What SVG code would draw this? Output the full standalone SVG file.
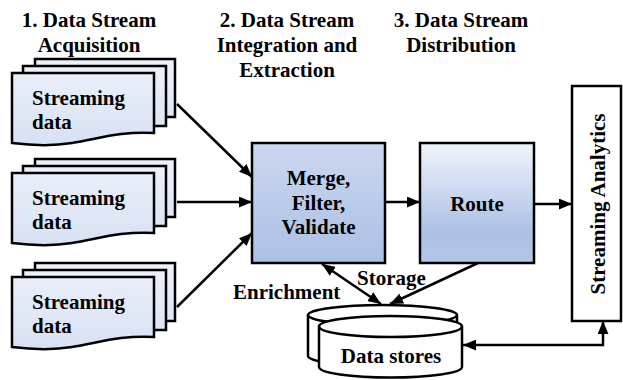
<svg xmlns="http://www.w3.org/2000/svg" width="623" height="380" viewBox="0 0 623 380">
<style>
text{font-family:"Liberation Serif","Times New Roman",serif;font-weight:bold;font-size:21px;fill:#000}
.c{text-anchor:middle}
.shape{stroke:#000;stroke-width:2.5;stroke-linejoin:miter}
.ln{fill:none;stroke:#000;stroke-width:2.5}
</style>
<defs>
<linearGradient id="gs" gradientUnits="userSpaceOnUse" x1="0" y1="55" x2="0" y2="350">
<stop offset="0" stop-color="#eef2fa"/>
<stop offset="0.5" stop-color="#c9d6ee"/>
<stop offset="1" stop-color="#a9bfe5"/>
</linearGradient>
<linearGradient id="gm" x1="0" y1="0" x2="0" y2="1">
<stop offset="0" stop-color="#cbd7ef"/>
<stop offset="1" stop-color="#abc0e5"/>
</linearGradient>
<linearGradient id="gr" x1="0" y1="0" x2="0" y2="1">
<stop offset="0" stop-color="#f1f4fb"/>
<stop offset="0.75" stop-color="#abc0e5"/>
<stop offset="1" stop-color="#b4c6e7"/>
</linearGradient>
<marker id="ah" viewBox="0 0 12 10" refX="12" refY="5" markerWidth="13" markerHeight="11" markerUnits="userSpaceOnUse" orient="auto-start-reverse">
<path d="M0,0 L12,5 L0,10 z" fill="#000"/>
</marker>
<g id="stackShape">
<rect class="shape" x="35" y="59" width="140" height="58"/>
<rect class="shape" x="23" y="66" width="143" height="60"/>
<path class="shape" d="M12,73 H154 V133 C120,131 98,139 72,143 C48,147 28,145 12,143 Z"/>
</g>
</defs>

<g id="headers">
<text class="c" x="89" y="27">1. Data Stream</text>
<text class="c" x="89" y="52">Acquisition</text>
<text class="c" x="287" y="27">2. Data Stream</text>
<text class="c" x="287" y="52">Integration and</text>
<text class="c" x="287" y="77">Extraction</text>
<text class="c" x="461" y="27">3. Data Stream</text>
<text class="c" x="461" y="52">Distribution</text>
</g>

<g id="stream1" fill="url(#gs)">
<use href="#stackShape"/>
<text x="32" y="105">Streaming</text>
<text x="32" y="129">data</text>
</g>
<g id="stream2" fill="url(#gs)" transform="translate(0,100)">
<use href="#stackShape"/>
<text x="32" y="105">Streaming</text>
<text x="32" y="129">data</text>
</g>
<g id="stream3" fill="url(#gs)" transform="translate(0,204)">
<use href="#stackShape"/>
<text x="32" y="105">Streaming</text>
<text x="32" y="129">data</text>
</g>

<g id="merge">
<rect class="shape" x="252" y="143" width="133" height="120" fill="url(#gm)"/>
<text class="c" x="318.5" y="185">Merge,</text>
<text class="c" x="318.5" y="210">Filter,</text>
<text class="c" x="318.5" y="234">Validate</text>
</g>

<g id="route">
<rect class="shape" x="420" y="143" width="114" height="120" fill="url(#gr)"/>
<text class="c" x="477" y="211">Route</text>
</g>

<g id="analytics">
<rect class="shape" x="572" y="86" width="49" height="235" fill="#fff"/>
<text class="c" transform="translate(605,204) rotate(-90)">Streaming Analytics</text>
</g>

<g id="datastores">
<path class="shape" fill="#fff" d="M308,315 A74.5,10 0 0 1 457,315 V356 A74.5,10 0 0 1 308,356 Z"/>
<path class="shape" fill="none" d="M308,315 A74.5,10 0 0 0 457,315"/>
<path class="shape" fill="#fff" d="M319,326.5 A71.5,10.5 0 0 1 462,326.5 V367 A71.5,10.5 0 0 1 319,367 Z"/>
<path class="shape" fill="none" d="M319,326.5 A71.5,10.5 0 0 0 462,326.5"/>
<text class="c" x="391" y="363">Data stores</text>
</g>

<g id="connectors">
<line class="ln" x1="177" y1="104" x2="252" y2="177" marker-end="url(#ah)"/>
<line class="ln" x1="177" y1="202" x2="252" y2="202" marker-end="url(#ah)"/>
<line class="ln" x1="177" y1="307" x2="252" y2="233" marker-end="url(#ah)"/>
<line class="ln" x1="385" y1="202" x2="420" y2="202" marker-end="url(#ah)"/>
<line class="ln" x1="534" y1="204" x2="572" y2="204" marker-end="url(#ah)"/>
<line class="ln" x1="322" y1="264" x2="381" y2="304" marker-start="url(#ah)" marker-end="url(#ah)"/>
<line class="ln" x1="478" y1="263" x2="390" y2="304" marker-end="url(#ah)"/>
<path class="ln" d="M463,345 H603 V321" marker-start="url(#ah)" marker-end="url(#ah)"/>
</g>

<g id="labels">
<text x="357" y="285">Storage</text>
<text x="233" y="299">Enrichment</text>
</g>
</svg>
